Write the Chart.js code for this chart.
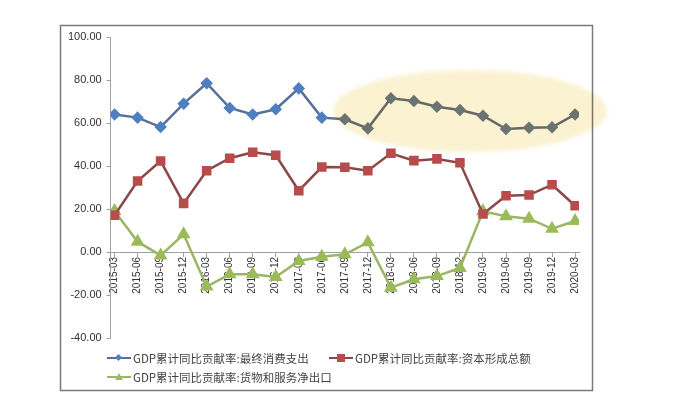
<!DOCTYPE html>
<html>
<head>
<meta charset="utf-8">
<script src="https://cdn.jsdelivr.net/npm/chart.js@4"></script>
<style>
  html, body { margin: 0; padding: 0; background: #fff; }
  #wrap { position: relative; width: 682px; height: 398px; }
  #chart { position: absolute; left: 0; top: 0; }
  .leg { position: absolute; height: 14px; display: flex; align-items: center;
         font: 11.5px "Noto Sans CJK SC", "Liberation Sans", sans-serif; color: #444; white-space: nowrap; }
  .sample { position: relative; width: 24px; height: 14px; margin-right: 2px; }
  .sample .ln { position: absolute; left: 0; top: 6px; width: 24px; height: 2px; }
  .sample .mk { position: absolute; }
</style>
</head>
<body>
<div id="wrap">
  <canvas id="chart" width="682" height="398"></canvas>
  <div id="legend"></div>
</div>
<script>
const labels = ['2015-03', '2015-06', '2015-09', '2015-12', '2016-03', '2016-06', '2016-09', '2016-12',
    '2017-03', '2017-06', '2017-09', '2017-12', '2018-03', '2018-06', '2018-09', '2018-12',
    '2019-03', '2019-06', '2019-09', '2019-12', '2020-03'];

const consumption = [64.0, 62.5, 58.1, 69.0, 78.5, 67.0, 64.0, 66.4, 76.1, 62.5, 61.7, 57.5,
    71.5, 70.2, 67.6, 66.0, 63.4, 57.2, 57.8, 58.0, 64.0];
const capital = [17.1, 33.0, 42.3, 22.6, 37.8, 43.6, 46.4, 45.0, 28.5, 39.5, 39.4, 37.8,
    45.9, 42.5, 43.3, 41.5, 17.7, 26.2, 26.5, 31.3, 21.5];
const netExport = [19.1, 4.8, -1.6, 8.2, -16.1, -10.4, -10.4, -11.6, -4.2, -2.2, -1.1, 4.5,
    -16.6, -12.7, -11.2, -7.4, 18.9, 16.6, 15.5, 10.8, 14.4];

const seriesNames = ['GDP累计同比贡献率:最终消费支出', 'GDP累计同比贡献率:资本形成总额', 'GDP累计同比贡献率:货物和服务净出口'];

// highlighted period (2018-03 .. 2020-03 area), in axis units
const highlight = { cx: 15.43, cy: 65.6, rx: 5.95, ry: 19.1 };

const toPoints = arr => arr.map((v, i) => ({ x: i, y: v }));

const frameBg = {
    id: 'frameBg',
    beforeDraw(chart) {
        const ctx = chart.ctx;
        ctx.save();
        ctx.fillStyle = '#fff';
        ctx.fillRect(0, 0, chart.width, chart.height);
        ctx.strokeStyle = '#7a7a7a';
        ctx.lineWidth = 1.5;
        ctx.strokeRect(60.5, 25.5, 532, 365);
        ctx.restore();
    }
};

const ellipse = {
    id: 'ellipse',
    afterDatasetsDraw(chart) {
        const { ctx, scales: { x, y } } = chart;
        const cx = x.getPixelForValue(highlight.cx);
        const cy = y.getPixelForValue(highlight.cy);
        const rx = x.getPixelForValue(highlight.cx + highlight.rx) - cx;
        const ry = cy - y.getPixelForValue(highlight.cy + highlight.ry);
        const shape = () => {
            ctx.beginPath();
            ctx.ellipse(cx, cy, rx, ry, 0, 0, Math.PI * 2);
            ctx.fill();
        };
        ctx.save();
        ctx.filter = 'blur(2px)';
        // wash the colour out of whatever sits under the highlight
        ctx.globalCompositeOperation = 'saturation';
        ctx.fillStyle = 'rgba(128, 128, 128, 0.75)';
        shape();
        ctx.globalCompositeOperation = 'multiply';
        ctx.fillStyle = 'rgb(251, 242, 210)';
        shape();
        ctx.restore();
    }
};

new Chart(document.getElementById('chart'), {
    type: 'line',
    data: {
        datasets: [{
            label: seriesNames[0],
            data: toPoints(consumption),
            borderColor: '#56709a',
            backgroundColor: '#4f7fc0',
            pointBackgroundColor: '#4f7fc0',
            pointBorderColor: '#4f7fc0',
            pointStyle: 'rectRot',
            pointRadius: 4.5,
            borderWidth: 2.5
        }, {
            label: seriesNames[1],
            data: toPoints(capital),
            borderColor: '#8a4848',
            backgroundColor: '#b84c4c',
            pointBackgroundColor: '#b84c4c',
            pointBorderColor: '#b84c4c',
            pointStyle: 'rect',
            pointRadius: 5,
            borderWidth: 2.5
        }, {
            label: seriesNames[2],
            data: toPoints(netExport),
            borderColor: '#9cb466',
            backgroundColor: '#9bbb59',
            pointBackgroundColor: '#9bbb59',
            pointBorderColor: '#9bbb59',
            pointStyle: 'triangle',
            pointRadius: 5.5,
            borderWidth: 2.5
        }]
    },
    options: {
        responsive: false,
        animation: false,
        layout: { padding: { left: 63, right: 103, top: 37, bottom: 60 } },
        plugins: {
            legend: { display: false },
            tooltip: { enabled: false }
        },
        scales: {
            x: {
                type: 'linear',
                position: { y: 0 },
                min: -0.17,
                max: labels.length - 1 + 0.17,
                afterBuildTicks: s => { s.ticks = labels.map((l, i) => ({ value: i })); },
                ticks: {
                    autoSkip: false,
                    maxRotation: 90,
                    minRotation: 90,
                    padding: 1,
                    color: '#333',
                    font: { family: 'Liberation Sans', size: 10 },
                    callback: v => labels[v]
                },
                grid: { drawOnChartArea: false, tickLength: 4, color: '#a0a0a0' },
                border: { color: '#a0a0a0' }
            },
            y: {
                min: -40,
                max: 100,
                ticks: {
                    stepSize: 20,
                    padding: 5,
                    color: '#333',
                    font: { family: 'Liberation Sans', size: 11 },
                    callback: v => v.toFixed(2)
                },
                grid: { drawOnChartArea: false, tickLength: 4, color: '#a0a0a0' },
                border: { color: '#a0a0a0' }
            }
        }
    },
    plugins: [frameBg, ellipse]
});

// legend, laid out like the original (two items on the first row, one on the second)
const legendItems = [
    { left: 107, top: 351, color: '#56709a', mark: 'diamond', fill: '#4f7fc0' },
    { left: 329, top: 351, color: '#8a4848', mark: 'square', fill: '#b84c4c' },
    { left: 107, top: 370, color: '#9cb466', mark: 'triangle', fill: '#9bbb59' }
];
const legendEl = document.getElementById('legend');
legendItems.forEach((it, i) => {
    const d = document.createElement('div');
    d.className = 'leg';
    d.style.left = it.left + 'px';
    d.style.top = it.top + 'px';
    let mk;
    if (it.mark === 'diamond') {
        mk = `<div class="mk" style="left:9px;top:4px;width:5px;height:5px;background:${it.fill};transform:rotate(45deg)"></div>`;
    } else if (it.mark === 'square') {
        mk = `<div class="mk" style="left:8px;top:3px;width:8px;height:8px;background:${it.fill}"></div>`;
    } else {
        mk = `<div class="mk" style="left:8px;top:3px;width:0;height:0;border-left:4px solid transparent;border-right:4px solid transparent;border-bottom:7px solid ${it.fill}"></div>`;
    }
    d.innerHTML = `<div class="sample"><div class="ln" style="background:${it.color}"></div>${mk}</div><span>${seriesNames[i]}</span>`;
    legendEl.appendChild(d);
});
</script>
</body>
</html>
